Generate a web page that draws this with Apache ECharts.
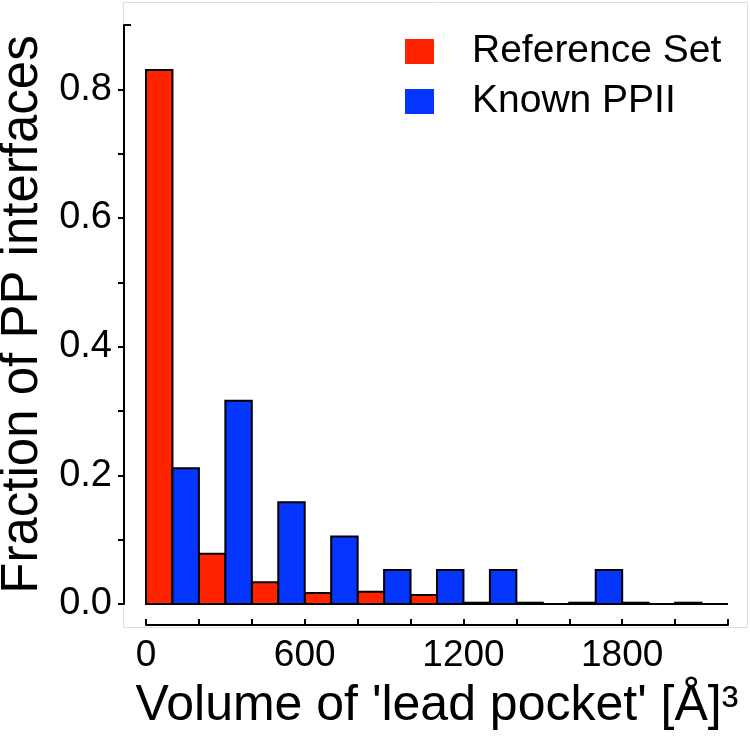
<!DOCTYPE html>
<html>
<head>
<meta charset="utf-8">
<script src="https://cdn.jsdelivr.net/npm/echarts@6/dist/echarts.min.js"></script>
<style>
  html, body { margin: 0; padding: 0; background: #fff; }
  #chart { width: 750px; height: 736px; }
</style>
</head>
<body>
<div id="chart"></div>
<script>
  // histogram bins, 200 A^3 wide; red takes the left half, blue the right half
  var binStart = [0, 200, 400, 600, 800, 1000, 1200, 1400, 1600, 1800, 2000]
  var referenceSet = [0.830, 0.078, 0.034, 0.017, 0.019, 0.014, 0.002, 0.002, 0.002, 0.002, 0.002]
  var knownPPII = [0.211, 0.316, 0.158, 0.105, 0.053, 0.053, 0.053, 0, 0.053, 0, 0]
  var xTickLabels = [0, 600, 1200, 1800]
  var xTicks = [0, 200, 400, 600, 800, 1000, 1200, 1400, 1600, 1800, 2000, 2200]
  var yTickLabels = [0, 0.2, 0.4, 0.6, 0.8]
  var yTicks = [0, 0.1, 0.2, 0.3, 0.4, 0.5, 0.6, 0.7, 0.8]

  var FONT = "'Liberation Sans', Arial, sans-serif"

  function halfBins(values, shift) {
    return values.map(function (v, i) {
      return [binStart[i] + shift, binStart[i] + shift + 100, v]
    })
  }

  function barRenderer(color) {
    return function (params, api) {
      var p0 = api.coord([api.value(0), api.value(2)])
      var p1 = api.coord([api.value(1), 0])
      return {
        type: 'rect',
        shape: { x: p0[0], y: p0[1], width: p1[0] - p0[0], height: p1[1] - p0[1] },
        style: { fill: color, stroke: '#000', lineWidth: 2 }
      }
    }
  }

  var chart = echarts.init(document.getElementById('chart'))
  chart.setOption({
    animation: false,
    textStyle: { fontFamily: FONT },
    graphic: [{
      type: 'rect',
      shape: { x: 123.5, y: 2.5, width: 624, height: 625 },
      style: { fill: 'none', stroke: '#dedede', lineWidth: 1 },
      z: -1
    }, {
      // small cap at the top of the y axis
      type: 'line',
      shape: { x1: 124, y1: 25, x2: 131, y2: 25 },
      style: { stroke: '#000', lineWidth: 2 }
    }],
    grid: { left: 146, right: 22, top: 25, bottom: 132, outerBoundsMode: 'none' },
    legend: {
      orient: 'vertical',
      left: 405,
      top: 32,
      padding: 0,
      itemWidth: 29,
      itemHeight: 25,
      itemGap: 11,
      icon: 'rect',
      textStyle: {
        fontFamily: FONT,
        fontSize: 39,
        color: '#000',
        padding: [0, 0, 0, 33]
      },
      data: ['Reference Set', 'Known PPII']
    },
    xAxis: {
      type: 'value',
      min: 0,
      max: 2200,
      interval: 200,
      offset: 21,
      name: "Volume of 'lead pocket' [Å]³",
      nameLocation: 'middle',
      nameGap: 56,
      nameTextStyle: { fontFamily: FONT, fontSize: 50, color: '#000' },
      axisLine: { onZero: false, lineStyle: { color: '#000', width: 2 } },
      axisTick: { inside: true, length: 6, customValues: xTicks, lineStyle: { color: '#000', width: 2 } },
      axisLabel: {
        fontFamily: FONT,
        fontSize: 37,
        color: '#000',
        margin: 12,
        customValues: xTickLabels,
        formatter: function (v) { return String(v) }
      },
      splitLine: { show: false }
    },
    yAxis: {
      type: 'value',
      min: 0,
      max: 0.9,
      interval: 0.1,
      offset: 22,
      name: 'Fraction of PP interfaces',
      nameLocation: 'middle',
      nameGap: 72,
      nameTextStyle: { fontFamily: FONT, fontSize: 51, color: '#000' },
      axisLine: { show: true, onZero: false, lineStyle: { color: '#000', width: 2 } },
      axisTick: { show: true, length: 6, customValues: yTicks, lineStyle: { color: '#000', width: 2 } },
      axisLabel: {
        fontFamily: FONT,
        fontSize: 38,
        color: '#000',
        margin: 12,
        customValues: yTickLabels,
        formatter: function (v) { return v.toFixed(1) }
      },
      splitLine: { show: false }
    },
    series: [{
      name: 'Reference Set',
      type: 'custom',
      itemStyle: { color: '#ff2300' },
      renderItem: barRenderer('#ff2300'),
      encode: { x: [0, 1], y: 2 },
      data: halfBins(referenceSet, 0)
    }, {
      name: 'Known PPII',
      type: 'custom',
      itemStyle: { color: '#0536ff' },
      renderItem: barRenderer('#0536ff'),
      encode: { x: [0, 1], y: 2 },
      data: halfBins(knownPPII, 100)
    }]
  })
</script>
</body>
</html>
